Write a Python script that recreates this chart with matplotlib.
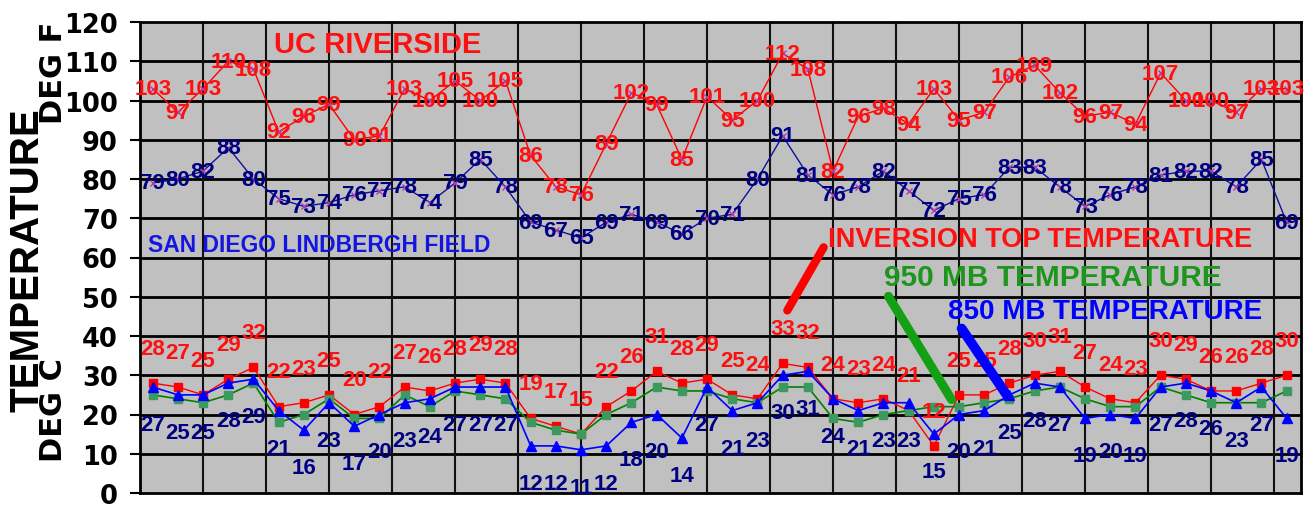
import matplotlib
matplotlib.use("Agg")
from matplotlib import pyplot as plt
import numpy as np

# daily values (46 days)
riverside_f = [103, 97, 103, 110, 108, 92, 96, 99, 90, 91, 103, 100, 105, 100, 105,
               86, 78, 76, 89, 102, 99, 85, 101, 95, 100, 112, 108, 82, 96, 98,
               94, 103, 95, 97, 106, 109, 102, 96, 97, 94, 107, 100, 100, 97, 103, 103]
sandiego_f = [79, 80, 82, 88, 80, 75, 73, 74, 76, 77, 78, 74, 79, 85, 78,
              69, 67, 65, 69, 71, 69, 66, 70, 71, 80, 91, 81, 76, 78, 82,
              77, 72, 75, 76, 83, 83, 78, 73, 76, 78, 81, 82, 82, 78, 85, 69]
inversion_c = [28, 27, 25, 29, 32, 22, 23, 25, 20, 22, 27, 26, 28, 29, 28,
               19, 17, 15, 22, 26, 31, 28, 29, 25, 24, 33, 32, 24, 23, 24,
               21, 12, 25, 25, 28, 30, 31, 27, 24, 23, 30, 29, 26, 26, 28, 30]
mb950_c = [25, 24, 23, 25, 28, 18, 20, 24, 19, 19, 25, 22, 26, 25, 24,
           18, 16, 15, 20, 23, 27, 26, 26, 24, 23, 27, 27, 19, 18,
           20, 21, 22, 22, 23, 24, 26, 27, 24, 22, 22, 27, 25, 23, 23, 23, 26]
mb850_c = [27, 25, 25, 28, 29, 21, 16, 23, 17, 20, 23, 24, 27, 27, 27,
           12, 12, 11, 12, 18, 20, 14, 27, 21, 23, 30, 31, 24, 21, 23,
           23, 15, 20, 21, 25, 28, 27, 19, 20, 19, 27, 28, 26, 23, 27, 19]
yticks = list(range(0, 121, 10))

days = np.arange(len(riverside_f))

FONT = ['Liberation Sans', 'DejaVu Sans']

fig = plt.figure(figsize=(13.09, 5.10), dpi=100)
ax = fig.add_axes([140/1309, 16/510, 1161/1309, 471/510])
ax.set_facecolor('#c0c0c0')
ax.set_xlim(-0.504, 45.57)
ax.set_ylim(0, 120)

# grid
for y in yticks[1:-1]:
    ax.axhline(y, color='black', lw=2, zorder=1)
for xv in np.arange(-0.5, 45, 2.5)[1:]:
    ax.axvline(xv, color='#111111', lw=1.5, zorder=1)

for s in ax.spines.values():
    s.set_linewidth(2)
ax.set_xticks([])
ax.set_yticks(yticks)
ax.set_yticklabels([str(t) for t in yticks], fontsize=18.5, fontweight='bold',
                   family=['DejaVu Sans'])
ax.tick_params(axis='y', length=7, width=1.5, pad=9)

# upper series (deg F), labels centred on points
ax.plot(days, riverside_f, color='#ff0000', lw=1, marker='x', ms=4,
        mec='#b03cb0', zorder=3)
ax.plot(days, sandiego_f, color='#10109a', lw=1, marker='x', ms=4,
        mec='#b03cb0', zorder=3)
for d, v in zip(days, riverside_f):
    ax.text(d, v, str(v), color='#ff1010', fontsize=16, fontweight='bold',
            family=FONT, ha='center', va='center', zorder=5)
for d, v in zip(days, sandiego_f):
    ax.text(d, v, str(v), color='#000080', fontsize=16, fontweight='bold',
            family=FONT, ha='center', va='center', zorder=5)

# lower series (deg C)
ax.plot(days, inversion_c, color='#ff0000', lw=1, marker='s', ms=6,
        mfc='#ff0000', mec='#ff0000', zorder=3)
ax.plot(days, mb950_c, color='#008000', lw=1.2, marker='s', ms=6,
        mfc='#3c9a5f', mec='#3c9a5f', zorder=3.5)
ax.plot(days, mb850_c, color='#0000ff', lw=1.2, marker='^', ms=7,
        mfc='#0000ff', mec='#0000ff', zorder=4)
for d, v in zip(days, inversion_c):
    ax.annotate(str(v), (d, v), xytext=(0, 25), textcoords='offset points',
                color='#ff1010', fontsize=16, fontweight='bold', family=FONT,
                ha='center', va='center', zorder=5)
for d, v in zip(days, mb850_c):
    ax.annotate(str(v), (d, v), xytext=(0, -27), textcoords='offset points',
                color='#000080', fontsize=16, fontweight='bold', family=FONT,
                ha='center', va='center', zorder=5)

# series captions
ax.text(8.92, 114.4, 'UC RIVERSIDE', color='#ff1010', fontsize=21,
        fontweight='bold', family=FONT, ha='center', va='center')
ax.text(6.6, 63.4, 'SAN DIEGO LINDBERGH FIELD', color='#1515e0', fontsize=16.5,
        fontweight='bold', family=FONT, ha='center', va='center')
ax.text(35.21, 64.7, 'INVERSION TOP TEMPERATURE', color='#ff1010', fontsize=19.5,
        fontweight='bold', family=FONT, ha='center', va='center')
ax.text(35.73, 55.0, '950 MB TEMPERATURE', color='#1e961e', fontsize=21.5,
        fontweight='bold', family=FONT, ha='center', va='center')
ax.text(37.79, 46.4, '850 MB TEMPERATURE', color='#0000ff', fontsize=20,
        fontweight='bold', family=FONT, ha='center', va='center')

# pointer lines
ax.annotate('', xy=(25.13, 45.9), xytext=(26.68, 63.2),
            arrowprops=dict(arrowstyle='-', lw=6, color='#ff0000'), zorder=6)
ax.annotate('', xy=(31.76, 23.2), xytext=(29.14, 50.7),
            arrowprops=dict(arrowstyle='-', lw=6.5, color='#14a014'), zorder=6)
ax.annotate('', xy=(33.94, 24.5), xytext=(32.04, 42.5),
            arrowprops=dict(arrowstyle='-', lw=7, color='#0000ff'), zorder=6)

# axis titles
fig.text(28/1309, 1 - 260/510, 'TEMPERATURE', rotation=90, fontsize=29,
         fontweight='bold', family=FONT, ha='center', va='center')
fig.text(53/1309, 1 - 73/510, 'DEG F', rotation=90, fontsize=22,
         fontweight='bold', family=['DejaVu Sans'], ha='center', va='center')
fig.text(53/1309, 1 - 410/510, 'DEG C', rotation=90, fontsize=22,
         fontweight='bold', family=['DejaVu Sans'], ha='center', va='center')

fig.savefig('out.png', dpi=100)
